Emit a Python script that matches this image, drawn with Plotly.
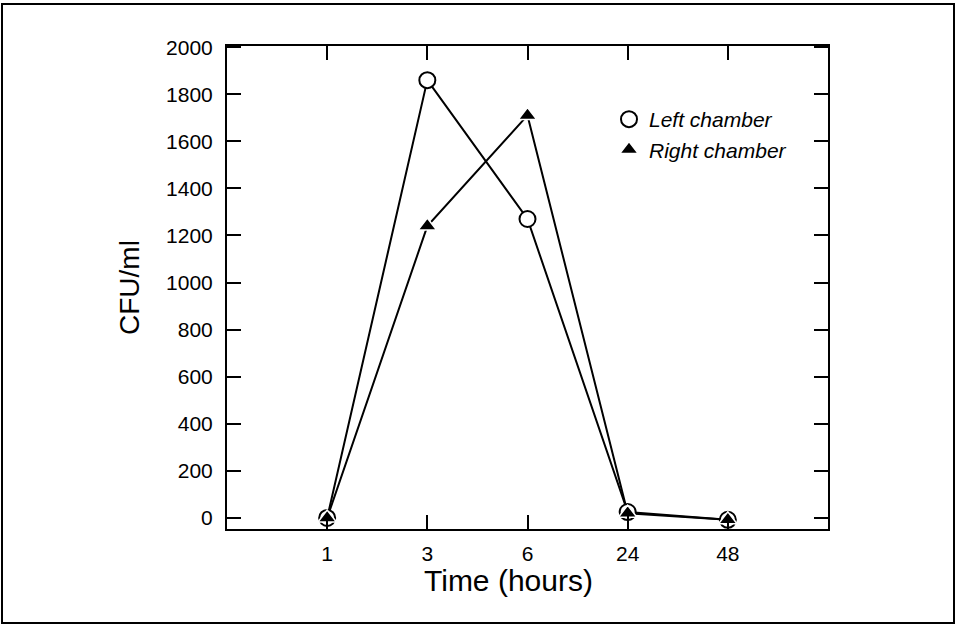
import plotly.graph_objects as go

# Sampling times (hours) and colony counts per chamber
time_labels = ["1", "3", "6", "24", "48"]
left_chamber = [0, 1860, 1270, 25, -8]
right_chamber = [0, 1240, 1710, 20, -8]
y_ticks = list(range(0, 2001, 200))

positions = list(range(len(time_labels)))

L, R, T, B = 227, 128, 46, 96
W, H = 956, 625
pw, ph = W - L - R, H - T - B


def px_x(p):
    return (p - L) / pw


def px_y(p):
    return (H - B - p) / ph


fig = go.Figure()
# connecting lines first, so the markers sit on top of them
for series in (left_chamber, right_chamber):
    fig.add_trace(go.Scatter(
        x=positions, y=series, mode="lines", showlegend=False,
        line=dict(color="black", width=2), hoverinfo="skip",
    ))
fig.add_trace(go.Scatter(
    x=positions, y=left_chamber, mode="markers", name="Left chamber",
    marker=dict(symbol="circle", size=16, color="white",
                line=dict(color="black", width=2)),
))
fig.add_trace(go.Scatter(
    x=positions, y=right_chamber, mode="markers", name="Right chamber",
    marker=dict(symbol="triangle-up", size=16, color="black",
                line=dict(color="white", width=1.5)),
))

family = "Liberation Sans, Arial, sans-serif"
axis_font = dict(family=family, size=21, color="black")

fig.update_xaxes(
    range=[-1, 5], tickvals=positions, ticktext=time_labels,
    ticks="inside", ticklen=14, tickwidth=2, tickcolor="black",
    showline=True, linewidth=2, linecolor="black", mirror="ticks",
    showgrid=False, zeroline=False, tickfont=axis_font,
    ticklabelstandoff=5,
)
fig.update_yaxes(
    range=[-47, 2005], tickvals=y_ticks,
    ticks="inside", ticklen=14, tickwidth=2, tickcolor="black",
    showline=True, linewidth=2, linecolor="black", mirror="ticks",
    showgrid=False, zeroline=False, tickfont=axis_font,
    ticklabelstandoff=8,
    title=dict(text="CFU/ml", font=dict(family=family, size=28, color="black"),
               standoff=18),
)

fig.update_layout(
    width=W, height=H,
    margin=dict(l=L, r=R, t=T, b=B),
    paper_bgcolor="white", plot_bgcolor="white",
    showlegend=True,
    legend=dict(
        x=px_x(609), y=px_y(99), xanchor="left", yanchor="top",
        bgcolor="rgba(0,0,0,0)",
        font=dict(family=family, size=21, color="black", style="italic"),
        itemwidth=30,
    ),
    annotations=[dict(
        text="Time (hours)", xref="paper", yref="paper",
        x=px_x(508), y=px_y(580), xanchor="center", yanchor="middle",
        showarrow=False, font=dict(family=family, size=30, color="black"),
    )],
    shapes=[dict(
        type="rect", xref="paper", yref="paper",
        x0=px_x(2), x1=px_x(954), y0=px_y(623), y1=px_y(4),
        line=dict(color="black", width=2),
    )],
)

fig.write_html("out.html")
